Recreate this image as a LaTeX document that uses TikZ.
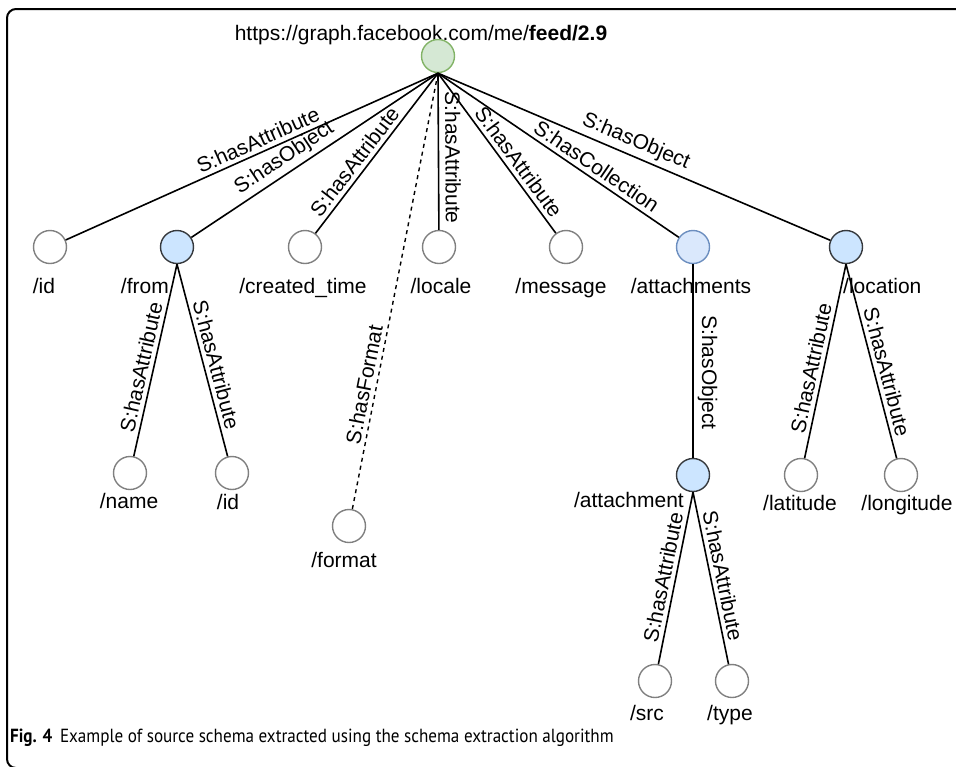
\documentclass[tikz,border=0pt]{standalone}
\usepackage{fontspec}
\setmainfont{Liberation Sans}
\newfontfamily\capfont{PT Sans}
\begin{document}
\begin{tikzpicture}[x=1pt,y=-1pt,
  every node/.style={font=\fontsize{21}{25}\selectfont},
  vertex/.style={circle, minimum size=33pt, inner sep=0pt, line width=1.4pt},
  leaf/.style={vertex, draw=leafgray, fill=white},
  obj/.style={vertex, draw=objborder, fill=objfill},
  coll/.style={vertex, draw=collborder, fill=collfill},
  rootv/.style={vertex, draw=rootborder, fill=rootfill},
  edge/.style={line width=1.6pt, black},
  dashedge/.style={line width=1.4pt, black, dash pattern=on 4pt off 4pt},
  lab/.style={sloped, above=3pt, inner sep=1pt},
  txt/.style={anchor=base, inner sep=0pt}
]
\definecolor{leafgray}{HTML}{808080}
\definecolor{objborder}{HTML}{36393D}
\definecolor{objfill}{HTML}{CCE5FF}
\definecolor{collborder}{HTML}{6C8EBF}
\definecolor{collfill}{HTML}{DAE8FC}
\definecolor{rootborder}{HTML}{82B366}
\definecolor{rootfill}{HTML}{D5E8D4}
\useasboundingbox (0,0) rectangle (956,766);
% frame
\draw[line width=2pt, rounded corners=9pt] (975,9) -- (7,9) -- (7,768) -- (40,768);
% title
\node[txt] (title) at (421,40) {https://graph.facebook.com/me/\textbf{feed/2.9}};
% vertices
\node[rootv] (root) at (438,56) {};
\node[leaf] (id) at (50,247) {};
\node[obj] (from) at (177,247) {};
\node[leaf] (created) at (305,247) {};
\node[leaf] (locale) at (439,247) {};
\node[leaf] (message) at (566,247) {};
\node[coll] (attachments) at (693,247) {};
\node[obj] (location) at (846,247) {};
\node[leaf] (name) at (130,473) {};
\node[leaf] (fid) at (232,473) {};
\node[leaf] (format) at (349,526) {};
\node[obj] (attachment) at (693,475) {};
\node[leaf] (latitude) at (801,475) {};
\node[leaf] (longitude) at (901,475) {};
\node[leaf] (src) at (655,681) {};
\node[leaf] (type) at (732,681) {};
% vertex texts
\node[txt] (tid) at (44,293) {/id};
\node[txt, anchor=base east] (tfrom) at (169,293) {/from};
\node[txt] (tcreated) at (303,293) {/created\_time};
\node[txt] (tlocale) at (441,293) {/locale};
\node[txt] (tmessage) at (561,293) {/message};
\node[txt] (tattachments) at (691,293) {/attachments};
\node[txt, anchor=base west] (tlocation) at (843,293) {/location};
\node[txt] (tname) at (129,508) {/name};
\node[txt] (tfid) at (228,509) {/id};
\node[txt] (tformat) at (344,567) {/format};
\node[txt, anchor=base east] (tattachment) at (684,507) {/attachment};
\node[txt] (tlatitude) at (800,510) {/latitude};
\node[txt] (tlongitude) at (907,510) {/longitude};
\node[txt] (tsrc) at (647,720) {/src};
\node[txt] (ttype) at (730,720) {/type};
% edges from root
\draw[edge] (root.south) -- node[lab, pos=0.47] {S:hasAttribute} (id);
\draw[edge] (root.south) -- node[lab, pos=0.59] {S:hasObject} (from);
\draw[edge] (root.south) -- node[lab, pos=0.6] {S:hasAttribute} (created);
\draw[edge] (root.south) -- node[lab, pos=0.54, above=2pt] {S:hasAttribute} (locale);
\draw[edge] (root.south) -- node[lab, pos=0.6] {S:hasAttribute} (message);
\draw[edge] (root.south) -- node[lab, pos=0.63] {S:hasCollection} (attachments);
\draw[edge] (root.south) -- node[lab, pos=0.49] {S:hasObject} (location);
\draw[dashedge] (root.south) -- node[lab, pos=0.72] {S:hasFormat} (format);
% sub edges
\draw[edge] (from.south) -- node[lab, pos=0.55] {S:hasAttribute} (name);
\draw[edge] (from.south) -- node[lab, pos=0.54] {S:hasAttribute} (fid);
\draw[edge] (attachments.south) -- node[lab, pos=0.56] {S:hasObject} (attachment);
\draw[edge] (location.south) -- node[lab, pos=0.55] {S:hasAttribute} (latitude);
\draw[edge] (location.south) -- node[lab, pos=0.57] {S:hasAttribute} (longitude);
\draw[edge] (attachment.south) -- node[lab, pos=0.51] {S:hasAttribute} (src);
\draw[edge] (attachment.south) -- node[lab, pos=0.5] {S:hasAttribute} (type);
% caption
\node[anchor=base west, inner sep=0pt, font=\capfont\fontsize{19}{22}\selectfont] (caption) at (10,742)
  {\scalebox{0.9}[1]{\textbf{Fig. 4}\hspace{0.45em}Example of source schema extracted using the schema extraction algorithm}};
\end{tikzpicture}
\end{document}
